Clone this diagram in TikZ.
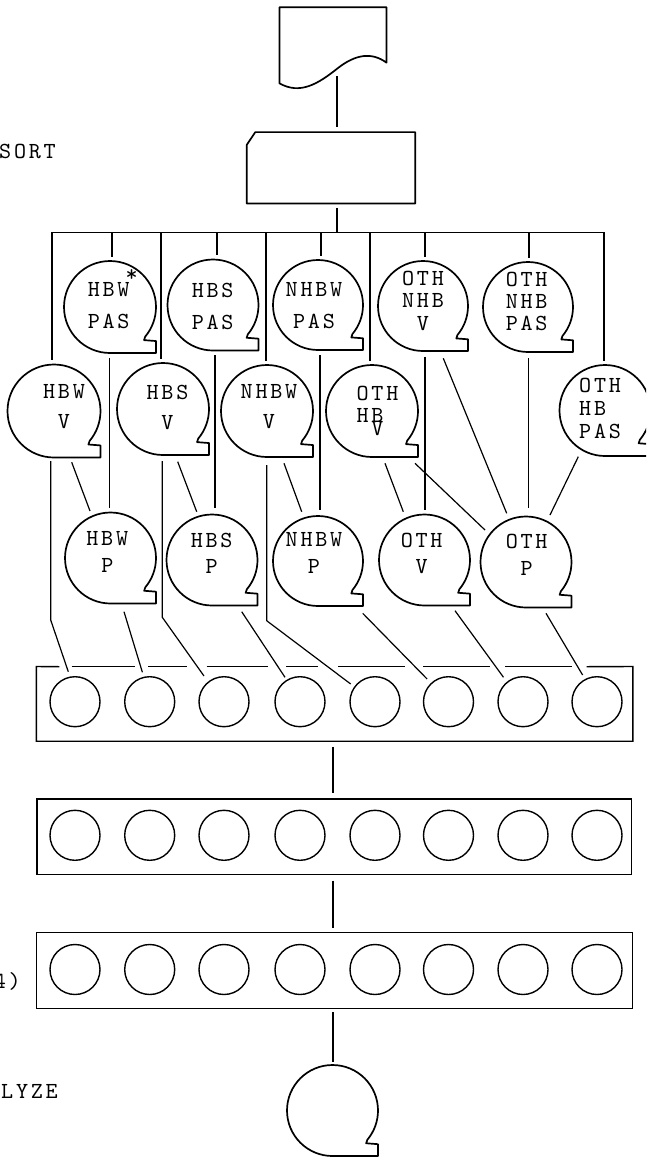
\documentclass[tikz,border=0pt]{standalone}
\usepackage{fontspec}
\newfontfamily\tw[LetterSpace=12]{lmmono10-regular.otf}
\usetikzlibrary{calc}
\tikzset{
  tapeline/.style={line width=1.7pt, line join=round},
  conn/.style={line width=1.2pt},
  tapenode/.style={circle, draw=none, inner sep=0pt, minimum size=#1},
  reel/.style={circle, draw, line width=1.4pt, minimum size=50pt, inner sep=0pt},
  boxline/.style={line width=1.4pt},
  lbl/.style={font=\tw\fontsize{23}{#1}\selectfont, inner sep=0pt, align=center},
  side/.style={font=\tw\fontsize{23}{23}\selectfont, inner sep=0pt},
}
\newcommand\tapeshape[4]{%
  \node[tapenode={2*#4pt}] (#1) at (#2,-#3) {};
  \draw[tapeline] ($(#1.center)+(0,-#4)$) arc[start angle=-90, end angle=-400, radius=#4pt]
    -- ($(#1.center)+(0.74*#4,-0.72*#4)$) -- ($(#1.center)+(#4,-0.74*#4)$)
    -- ($(#1.center)+(#4,-#4)$) -- cycle;
}
\newcommand\dropline[2]{%
  \draw[conn, shorten >=4pt] ($(#1.north |- busL)+(#2,0)$) -- ($(#1.north)+(#2,0)$);
}
\begin{document}
\begin{tikzpicture}[x=1pt,y=1pt]
\useasboundingbox (0,0) rectangle (646,-1157);
\clip (0,0) rectangle (646,-1157);

% document symbol
\node[draw=none, minimum width=107.1pt, minimum height=82pt, inner sep=0pt] (doc) at (332.95,-48.3) {};
\draw[tapeline] (386.5,-62.7) .. controls (372,-52) and (356,-54) .. (338,-68)
  .. controls (318,-84) and (300,-95) .. (279.4,-83.3)
  -- (279.4,-7.3) -- (386.5,-7.3) -- cycle;

% card symbol
\node[draw=none, minimum width=168pt, minimum height=71pt, inner sep=0pt] (card) at (331,-167.8) {};
\draw[tapeline] ($(card.north west)+(0,-12.7)$) -- ($(card.north west)+(8.5,0)$)
  -- (card.north east) -- (card.south east) -- (card.south west) -- cycle;

\draw[conn] ($(doc.center)+(4.05,-27.7)$) -- ($(card.north)+(6,5.6)$);

% bus
\coordinate (busL) at (52,-232.3);
\coordinate (busR) at (604,-232.3);
\draw[conn] (busL) -- (busR);
\draw[conn] ($(card.south)+(6,-4)$) -- ($(card.south |- busL)+(6,0)$);

% tapes top row
\tapeshape{hbwpas}{110}{307}{46}
\tapeshape{hbspas}{213}{305}{45.5}
\tapeshape{nhbwpas}{318}{305}{45}
\tapeshape{othnhbv}{423}{306}{45}
\tapeshape{othnhbpas}{528}{307}{45}
% middle row
\tapeshape{hbwv}{54}{411}{46.5}
\tapeshape{hbsv}{163}{409}{46}
\tapeshape{nhbwv}{267}{411}{46}
\tapeshape{othhbv}{372}{411}{46}
\tapeshape{othhbpas}{605}{410.5}{45.5}
% bottom row
\tapeshape{hbwp}{110.5}{558}{45.5}
\tapeshape{hbsp}{212}{560}{45.5}
\tapeshape{nhbwp}{318}{561}{45}
\tapeshape{othv}{424.5}{560}{45.5}
\tapeshape{othp}{526}{562}{45.5}
% final tape
\tapeshape{final}{332.5}{1110.5}{45.5}

% labels
\node[lbl=32] at (108.7,-306) {HBW\\PAS};
\node[side] at (131.7,-275.7) {*};
\node[lbl=32] at (212.7,-306) {HBS\\PAS};
\node[lbl=32] at (314,-306) {NHBW\\PAS};
\node[lbl=22.5] at (423,-300.5) {OTH\\NHB\\V};
\node[lbl=22] at (526.7,-301.5) {OTH\\NHB\\PAS};
\node[lbl=30] at (64,-406.7) {HBW\\V};
\node[lbl=30] at (167.5,-407) {HBS\\V};
\node[lbl=30] at (269,-407) {NHBW\\V};
\node[side] at (377.5,-393.3) {OTH};
\node[side] at (370,-415) {HB};
\node[side] at (377.5,-428.3) {V};
\node[lbl=23.3, align=left, anchor=west] at (579,-408.3) {OTH\\HB\\PAS};
\node[lbl=27.5] at (107.3,-552) {HBW\\P};
\node[lbl=26.7] at (211.7,-553.3) {HBS\\P};
\node[lbl=26.7] at (314,-553.3) {NHBW\\P};
\node[lbl=26] at (421.7,-553.7) {OTH\\V};
\node[lbl=26.3] at (526.7,-554.8) {OTH\\P};

% side texts
\node[side, anchor=east] at (56,-151.7) {SORT};
\node[side, anchor=base east] at (21,-988) {4)};
\node[side, anchor=east] at (58,-1091.7) {LYZE};

% drops from bus
\dropline{hbwv}{-2}
\dropline{hbwpas}{2}
\dropline{hbsv}{-2}
\dropline{hbspas}{4}
\dropline{nhbwv}{-1}
\dropline{nhbwpas}{3}
\dropline{othhbv}{-2}
\dropline{othnhbv}{2}
\dropline{othnhbpas}{1}
\dropline{othhbpas}{-1}

% connectors between tape rows
\draw[conn] ($(hbwpas)+(-0.5,-51)$) -- ($(hbwp)+(-1,50)$);
\draw[conn] ($(hbspas)+(2,-50)$) -- ($(hbsp)+(3,52)$);
\draw[conn] ($(nhbwpas)+(2,-50)$) -- ($(nhbwp)+(2,51)$);
\draw[conn] ($(othnhbv)+(2,-50.7)$) -- ($(othv)+(0.5,50)$);
\draw[conn] ($(othnhbpas)+(0.3,-51)$) -- ($(othp)+(2.3,54)$);
\draw[conn] ($(othnhbv)+(20.3,-52.3)$) -- ($(othp)+(-19.3,48.7)$);
\draw[conn] ($(othhbpas)+(-26.7,-46.2)$) -- ($(othp)+(24,47)$);
\draw[conn] ($(othhbv)+(43,-52.3)$) -- ($(othp)+(-41,32)$);
\draw[conn] ($(othhbv)+(13,-52.3)$) -- ($(othv)+(-21.2,48.3)$);
\draw[conn] ($(hbwv)+(17.7,-51.3)$) -- ($(hbwp)+(-20.5,47)$);
\draw[conn] ($(hbsv)+(14.7,-52.7)$) -- ($(hbsp)+(-15.3,48.3)$);
\draw[conn] ($(nhbwv)+(17,-52.3)$) -- ($(nhbwp)+(-16.3,49.3)$);

% reel boxes
\node[draw=none, minimum width=596.2pt, minimum height=74.3pt, inner sep=0pt] (box1) at (334.6,-703.85) {};
\node[draw, boxline, minimum width=594.5pt, minimum height=75.3pt, inner sep=0pt] (box2) at (334.25,-836.65) {};
\node[draw, boxline, minimum width=596.2pt, minimum height=75.6pt, inner sep=0pt] (box3) at (334.4,-970.5) {};
\draw[boxline] (59.3,-666.7) -- (box1.north west) -- (box1.south west) -- (box1.south east) -- (box1.north east) -- (586.7,-666.7);
\foreach \a/\b in {71.7/135, 148.3/186.7, 206.7/268.3, 286/318.3, 338.3/405, 423.3/490, 505/571.7}
  \draw[boxline] (\a,-666.7) -- (\b,-666.7);

\foreach \n/\x in {a/75, b/149.7, c/224, d/300, e/375, f/448.5, g/523, h/597} {
  \node[reel] (r1\n) at (\x,-701.7) {};
  \node[reel] (r2\n) at (\x,-835.3) {};
  \node[reel] (r3\n) at (\x,-969.5) {};
}

% connectors into first reel box
\draw[conn] ($(hbwv)+(-3.3,-50)$) -- ++(0,-159) -- ($(r1a)+(-6.7,30)$);
\draw[conn] ($(hbsv)+(-0.7,-52)$) -- ++(0,-156.3) -- ($(r1c)+(-20,25.7)$);
\draw[conn] ($(nhbwv)+(-0.3,-54)$) -- ++(0,-155.7) -- ($(r1e)+(-24.3,17.7)$);
\draw[conn] ($(hbwp)+(13.5,-53.7)$) -- ($(r1b)+(-7.3,29.4)$);
\draw[conn] ($(hbsp)+(29.7,-51.7)$) -- ($(r1d)+(-15,24.4)$);
\draw[conn] ($(nhbwp)+(44.7,-52.3)$) -- ($(r1f)+(-21.4,22.7)$);
\draw[conn] ($(othv)+(30.5,-50.7)$) -- ($(r1g)+(-19.5,24.4)$);
\draw[conn] ($(othp)+(20,-51.3)$) -- ($(r1h)+(-14.4,26.7)$);

% trunk lines
\draw[conn] ($(box1.south)+(-1.6,-5.7)$) -- ($(box2.north)+(-1.25,5.7)$);
\draw[conn] ($(box2.south)+(-1.25,-5.7)$) -- ($(box3.north)+(-1.4,4.4)$);
\draw[conn] ($(box3.south)+(-1.4,-3.4)$) -- ($(final.north)+(0.5,3.3)$);
\end{tikzpicture}
\end{document}
